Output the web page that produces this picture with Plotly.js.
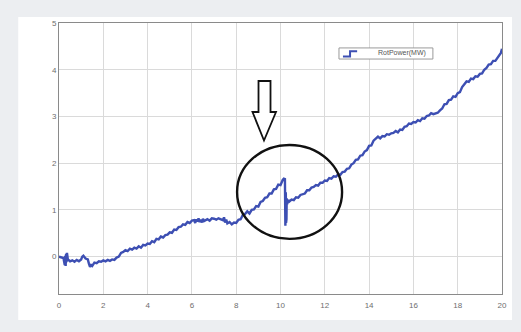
<!DOCTYPE html>
<html>
<head>
<meta charset="utf-8">
<script src="https://cdn.plot.ly/plotly-3.0.1.min.js"></script>
<style>
  html, body { margin: 0; padding: 0; background: #eceef1; }
  #chart { width: 521px; height: 332px; }
</style>
</head>
<body>
<div id="chart"></div>
<script>
// Rotor power over time (s)
const timeS = [
  0.00, 0.10, 0.20, 0.26, 0.28, 0.30, 0.32, 0.34, 0.36, 0.40, 0.50, 0.60, 0.70, 0.80, 0.90,
  1.00, 1.05, 1.10, 1.20, 1.30, 1.35, 1.40, 1.45, 1.50, 1.60, 1.70, 1.80, 1.90,
  2.00, 2.10, 2.20, 2.30, 2.40, 2.50, 2.60, 2.70, 2.80, 2.90,
  3.00, 3.10, 3.20, 3.30, 3.40, 3.50, 3.60, 3.70, 3.80, 3.90,
  4.00, 4.10, 4.20, 4.30, 4.40, 4.50, 4.60, 4.70, 4.80, 4.90,
  5.00, 5.10, 5.20, 5.30, 5.40, 5.50, 5.60, 5.70, 5.80, 5.90,
  6.00, 6.10, 6.15, 6.20, 6.25, 6.30, 6.35, 6.40, 6.45, 6.50, 6.55, 6.60, 6.70, 6.80, 6.90,
  7.00, 7.10, 7.20, 7.30, 7.40, 7.45, 7.50, 7.55, 7.60, 7.70, 7.80, 7.90,
  8.00, 8.10, 8.20, 8.30, 8.40, 8.50, 8.60, 8.70, 8.80, 8.90,
  9.00, 9.10, 9.20, 9.30, 9.40, 9.50, 9.60, 9.70, 9.80, 9.90,
  10.00, 10.10, 10.15, 10.20, 10.22, 10.24, 10.25, 10.26, 10.27, 10.28, 10.30, 10.35, 10.40,
  10.50, 10.60, 10.70, 10.80, 10.90,
  11.00, 11.10, 11.20, 11.30, 11.40, 11.50, 11.60, 11.70, 11.80, 11.90,
  12.00, 12.10, 12.20, 12.30, 12.40, 12.50, 12.60, 12.70, 12.80, 12.90,
  13.00, 13.10, 13.20, 13.30, 13.40, 13.50, 13.60, 13.70, 13.80, 13.90,
  14.00, 14.10, 14.20, 14.30, 14.40, 14.50, 14.60, 14.70, 14.80, 14.90,
  15.00, 15.10, 15.20, 15.30, 15.40, 15.50, 15.60, 15.70, 15.80, 15.90,
  16.00, 16.10, 16.20, 16.30, 16.40, 16.50, 16.60, 16.70, 16.80, 16.90,
  17.00, 17.10, 17.20, 17.30, 17.40, 17.50, 17.60, 17.70, 17.80, 17.90,
  18.00, 18.10, 18.20, 18.30, 18.40, 18.50, 18.60, 18.70, 18.80, 18.90,
  19.00, 19.10, 19.20, 19.30, 19.40, 19.50, 19.60, 19.70, 19.80, 19.90, 19.95, 20.00
];
const rotPowerMW = [
  0.00, -0.02, -0.03, -0.18, 0.02, -0.20, 0.06, -0.12, 0.08, -0.06, -0.10, -0.08, -0.11, -0.07, -0.10,
  -0.06, 0.00, 0.02, -0.04, -0.06, -0.15, -0.22, -0.18, -0.20, -0.13, -0.14, -0.10, -0.11,
  -0.08, -0.10, -0.07, -0.09, -0.06, -0.07, -0.02, 0.00, 0.08, 0.10,
  0.14, 0.12, 0.17, 0.15, 0.19, 0.17, 0.22, 0.19, 0.25, 0.24,
  0.28, 0.27, 0.33, 0.31, 0.38, 0.37, 0.43, 0.41, 0.46, 0.47,
  0.52, 0.51, 0.58, 0.57, 0.63, 0.64, 0.69, 0.68, 0.74, 0.72,
  0.77, 0.78, 0.72, 0.80, 0.75, 0.82, 0.74, 0.79, 0.73, 0.81, 0.76, 0.78, 0.80, 0.77, 0.82,
  0.81, 0.79, 0.82, 0.80, 0.78, 0.84, 0.73, 0.79, 0.71, 0.74, 0.69, 0.73,
  0.72, 0.79, 0.80, 0.89, 0.91, 0.97, 0.92, 1.00, 1.01, 1.08,
  1.07, 1.17, 1.19, 1.26, 1.27, 1.35, 1.35, 1.44, 1.45, 1.54,
  1.53, 1.64, 1.67, 1.66, 0.66, 1.38, 0.72, 1.30, 0.80, 1.25, 1.12, 1.21, 1.18,
  1.22, 1.21, 1.27, 1.26, 1.32,
  1.33, 1.35, 1.42, 1.42, 1.48, 1.49, 1.53, 1.52, 1.58, 1.58,
  1.63, 1.62, 1.68, 1.67, 1.72, 1.71, 1.76, 1.75, 1.81, 1.82,
  1.88, 1.89, 1.97, 2.00, 2.07, 2.08, 2.16, 2.17, 2.25, 2.28,
  2.37, 2.38, 2.48, 2.52, 2.57, 2.53, 2.58, 2.57, 2.62, 2.61,
  2.64, 2.65, 2.69, 2.66, 2.72, 2.71, 2.78, 2.79, 2.85, 2.84,
  2.88, 2.87, 2.92, 2.90, 2.96, 2.95, 3.01, 3.02, 3.07, 3.05,
  3.07, 3.08, 3.13, 3.17, 3.26, 3.27, 3.35, 3.36, 3.43, 3.42,
  3.50, 3.52, 3.63, 3.68, 3.75, 3.74, 3.81, 3.80, 3.86, 3.85,
  3.91, 3.92, 4.00, 4.04, 4.11, 4.12, 4.19, 4.19, 4.25, 4.31, 4.36, 4.45
];
const xTicks = [0, 2, 4, 6, 8, 10, 12, 14, 16, 18, 20];
const yTicks = [0, 1, 2, 3, 4, 5];
const seriesName = 'RotPower(MW)';

const lineBlue = '#3d4fb3';
const tickFont = { family: 'Liberation Sans, Arial, sans-serif', size: 8, color: '#6e6e6e' };

const trace = {
  x: timeS,
  y: rotPowerMW,
  type: 'scatter',
  mode: 'lines',
  name: seriesName,
  line: { color: lineBlue, width: 2.4 },
  showlegend: false
};

const axisCommon = {
  showgrid: true,
  gridcolor: '#dadada',
  gridwidth: 1,
  zeroline: false,
  showline: true,
  linecolor: '#8a8a8a',
  linewidth: 1,
  mirror: true,
  ticks: '',
  tickfont: tickFont
};

const shapes = [
  // page card
  { type: 'rect', xref: 'paper', yref: 'paper', layer: 'below',
    x0: -0.092, x1: 1.0226, y0: -0.096, y1: 1.022,
    fillcolor: '#ffffff', line: { width: 0 } },
  // highlight ring around the power drop
  { type: 'circle', xref: 'x', yref: 'y',
    x0: 8.04, x1: 12.78, y0: 0.38, y1: 2.39,
    line: { color: '#111111', width: 2.4 } },
  // hollow pointer arrow
  { type: 'path', xref: 'x', yref: 'y',
    path: 'M 9.007 3.759 L 9.549 3.759 L 9.549 3.095 L 9.797 3.095 L 9.255 2.485 L 8.736 3.095 L 9.007 3.095 Z',
    fillcolor: '#ffffff', line: { color: '#111111', width: 1.8 } },
  // legend box
  { type: 'rect', xref: 'paper', yref: 'paper',
    x0: 0.632, x1: 0.844, y0: 0.867, y1: 0.908,
    fillcolor: '#ffffff', line: { color: '#9a9a9a', width: 1 } },
  // legend step glyph
  { type: 'path', xref: 'paper', yref: 'paper',
    path: 'M 0.641 0.876 L 0.657 0.876 L 0.657 0.896 L 0.673 0.896',
    line: { color: lineBlue, width: 2 } }
];

const annotations = [
  { xref: 'paper', yref: 'paper', x: 0.775, y: 0.8875,
    xanchor: 'center', yanchor: 'middle', showarrow: false,
    text: seriesName,
    font: { family: 'Liberation Sans, Arial, sans-serif', size: 7, color: '#555555' } }
];

const layout = {
  width: 521,
  height: 332,
  margin: { l: 59, r: 19, t: 23, b: 38, pad: 0 },
  paper_bgcolor: '#eceef1',
  plot_bgcolor: 'rgba(0,0,0,0)',
  showlegend: false,
  xaxis: Object.assign({}, axisCommon, {
    range: [0, 20], tickvals: xTicks, ticktext: xTicks.map(String),
    ticklabelstandoff: 3
  }),
  yaxis: Object.assign({}, axisCommon, {
    range: [-0.8, 5], tickvals: yTicks, ticktext: yTicks.map(String)
  }),
  shapes: shapes,
  annotations: annotations
};

Plotly.newPlot('chart', [trace], layout, { displayModeBar: false, staticPlot: true });
</script>
</body>
</html>
